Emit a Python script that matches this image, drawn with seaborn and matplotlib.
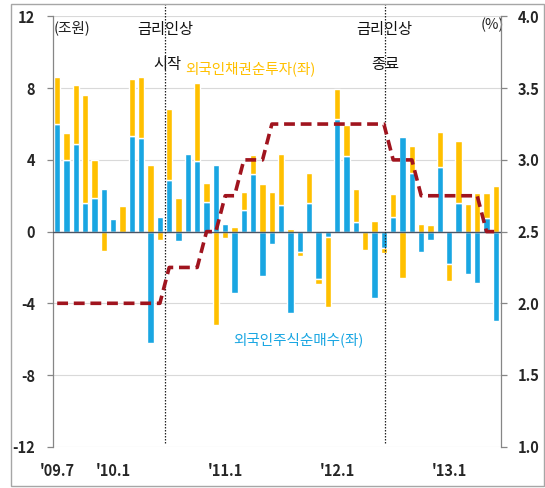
import numpy as np
import pandas as pd
import matplotlib
matplotlib.use("Agg")
import matplotlib.pyplot as plt
import seaborn as sns
from matplotlib.patches import Rectangle

months = ["2009.7", "2009.8", "2009.9", "2009.10", "2009.11", "2009.12",
          "2010.1", "2010.2", "2010.3", "2010.4", "2010.5", "2010.6",
          "2010.7", "2010.8", "2010.9", "2010.10", "2010.11", "2010.12",
          "2011.1", "2011.2", "2011.3", "2011.4", "2011.5", "2011.6",
          "2011.7", "2011.8", "2011.9", "2011.10", "2011.11", "2011.12",
          "2012.1", "2012.2", "2012.3", "2012.4", "2012.5", "2012.6",
          "2012.7", "2012.8", "2012.9", "2012.10", "2012.11", "2012.12",
          "2013.1", "2013.2", "2013.3", "2013.4", "2013.5", "2013.6"]

# 외국인주식순매수 (조원)
stock = [6.0, 4.0, 4.9, 1.6, 1.9, 2.35, 0.7, 0.0, 5.35, 5.2, -6.2, 0.8,
         2.87, -0.5, 4.33, 3.96, 1.65, 3.7, 0.45, -3.45, 1.2, 3.2, -2.45, -0.67,
         1.48, -4.54, -1.15, 1.57, -2.65, -0.3, 6.28, 4.24, 0.56, 0.0, -3.7, -0.9,
         0.8, 5.28, 3.28, -1.13, -0.46, 3.61, -1.8, 1.57, -2.37, -2.87, 0.78, -4.97]

# 외국인채권순투자 (조원)
bond = [2.6, 1.5, 3.3, 6.0, 2.1, -1.1, 0.0, 1.45, 3.15, 3.45, 3.7, -0.45,
        3.95, 1.9, 0.0, 4.35, 1.07, -5.2, -0.37, 0.26, 1.0, 1.05, 2.63, 2.2,
        2.87, 0.15, -0.2, 1.7, -0.25, -3.9, 1.67, 1.72, 1.83, -1.0, 0.6, -0.3,
        1.27, -2.6, 1.48, 0.4, 0.35, 1.93, -0.93, 3.5, 1.52, 2.17, 1.39, 2.53]

# 기준금리 (%)
rate = [2.0, 2.0, 2.0, 2.0, 2.0, 2.0, 2.0, 2.0, 2.0, 2.0, 2.0, 2.0,
        2.25, 2.25, 2.25, 2.25, 2.5, 2.5, 2.75, 2.75, 3.0, 3.0, 3.0, 3.25,
        3.25, 3.25, 3.25, 3.25, 3.25, 3.25, 3.25, 3.25, 3.25, 3.25, 3.25, 3.25,
        3.0, 3.0, 3.0, 2.75, 2.75, 2.75, 2.75, 2.75, 2.75, 2.75, 2.5, 2.5]

tick_months = ["2009.7", "2010.1", "2011.1", "2012.1", "2013.1"]
tick_labels = ["'09.7", "'10.1", "'11.1", "'12.1", "'13.1"]
left_ticks = [-12, -8, -4, 0, 4, 8, 12]
right_ticks = [1.0, 1.5, 2.0, 2.5, 3.0, 3.5, 4.0]

BLUE = "#19A6E2"
ORANGE = "#FFC000"
RED = "#A0141E"

sns.set_style("white")
plt.rcParams["font.family"] = ["Noto Sans CJK KR", "DejaVu Sans"]

df = pd.DataFrame({"month": months, "stock": stock, "bond": bond, "rate": rate})
df["pos"] = np.arange(len(df))
same = np.sign(df["bond"]) == np.sign(df["stock"])
df["bond_bottom"] = np.where(same, df["stock"], 0.0)

fig = plt.figure(figsize=(5.45, 4.88), dpi=100)
ax = fig.add_axes([53 / 545, 1 - 446.7 / 488, (501 - 53) / 545, (446.7 - 16.5) / 488])

sns.barplot(data=df, x="month", y="stock", order=months, color=BLUE,
            saturation=1, width=0.66, ax=ax, zorder=2)
ax.bar(df["pos"], df["bond"], bottom=df["bond_bottom"], width=0.66,
       color=ORANGE, zorder=2)

ax.set_xlim(-0.45, 47.55)
ax.set_ylim(-12, 12)
ax.set_yticks(left_ticks)
ax.set_yticklabels([str(t) for t in left_ticks])
ax.grid(axis="y", color="#D9D9D9", lw=0.8, zorder=0)
ax.set_axisbelow(True)
ax.axhline(0, color="#4A5566", lw=1.0, zorder=3)

pos_of = {m: i for i, m in enumerate(months)}
ax.set_xticks([pos_of[m] for m in tick_months])
ax.set_xticklabels(tick_labels)
ax.set_xlabel("")
ax.set_ylabel("")
for s in ["top", "bottom", "right"]:
    ax.spines[s].set_visible(False)
ax.spines["left"].set_color("#868686")
ax.spines["left"].set_linewidth(0.9)
ax.tick_params(axis="y", length=4, width=0.9, color="#868686", pad=9,
               labelsize=10.5)
ax.tick_params(axis="x", length=0, pad=12, labelsize=10.5)
for lab in ax.get_yticklabels() + ax.get_xticklabels():
    lab.set_fontweight("bold")

# vertical dotted lines
for xv in [11.5, 35.15]:
    ax.plot([xv, xv], [-11.8, 12.7], color="#222222", lw=0.9,
            linestyle=(0, (1.2, 1.2)), clip_on=False, zorder=4)

ax2 = ax.twinx()
sns.lineplot(x=df["pos"], y=df["rate"], ax=ax2, color=RED, lw=2.6,
             linestyle=(0, (3, 1.6)), zorder=5)
ax2.set_xlim(-0.45, 47.55)
ax2.set_ylim(1.0, 4.0)
ax2.set_yticks(right_ticks)
ax2.set_yticklabels([f"{t:.1f}" for t in right_ticks])
ax2.set_ylabel("")
ax2.set_xlabel("")
for s in ["top", "bottom", "left"]:
    ax2.spines[s].set_visible(False)
ax2.spines["right"].set_color("#868686")
ax2.spines["right"].set_linewidth(0.9)
ax2.tick_params(axis="y", length=4, width=0.9, color="#868686", pad=8,
                labelsize=10.5)
for lab in ax2.get_yticklabels():
    lab.set_fontweight("bold")

# annotations
ax.text(-0.4, 11.35, "(조원)", fontsize=10.5, ha="left", va="center", color="#222222")
ax.text(11.6, 11.3, "금리인상", fontsize=11, ha="center", va="center", color="#111111")
ax.text(11.8, 9.3, "시작", fontsize=11, ha="center", va="center", color="#111111")
ax.text(13.7, 9.1, "외국인채권순투자(좌)", fontsize=10.5, ha="left", va="center", color=ORANGE)
ax.text(35.0, 11.3, "금리인상", fontsize=11, ha="center", va="center", color="#111111")
ax.text(35.1, 9.3, "종료", fontsize=11, ha="center", va="center", color="#111111")
ax.text(46.6, 11.55, "(%)", fontsize=10.5, ha="center", va="center", color="#222222")
ax.text(25.8, -6.05, "외국인주식순매수(좌)", fontsize=10.5, ha="center", va="center", color=BLUE)

fig.patches.append(Rectangle((11 / 545, 2 / 488), (544 - 11) / 545, (484 - 2) / 488,
                             transform=fig.transFigure, fill=False,
                             ec="#A6A6A6", lw=1.0))

fig.savefig("out.png", dpi=100)
